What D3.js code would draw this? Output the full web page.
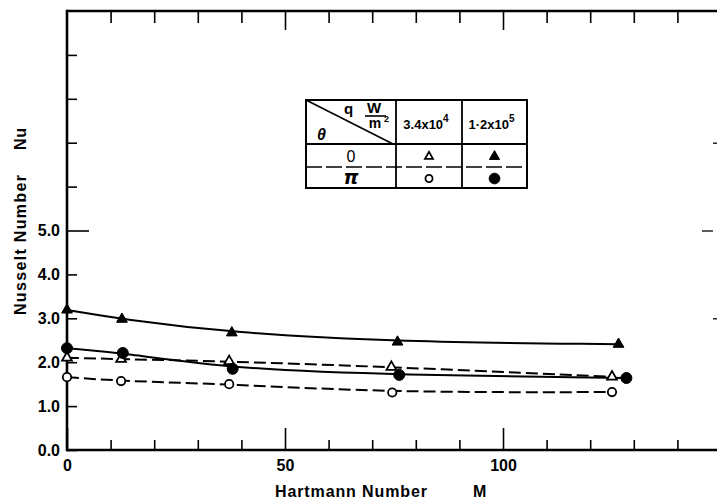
<!DOCTYPE html>
<html><head><meta charset="utf-8">
<script src="https://cdn.jsdelivr.net/npm/d3@7"></script>
<style>
html,body{margin:0;padding:0;background:#fff;}
svg{display:block;}
text{font-family:"Liberation Sans",Arial,sans-serif;font-weight:bold;fill:#000;}
</style></head>
<body><svg id="c" width="717" height="501"></svg>
<script>
// ---- data ----
const M_filledTri  = [0, 12.6, 37.8, 75.8, 126.5];
const Nu_filledTri = [3.19, 2.98, 2.67, 2.46, 2.41];
const M_filledCirc  = [0, 12.8, 38.0, 76.2, 128.3];
const Nu_filledCirc = [2.32, 2.21, 1.85, 1.71, 1.64];
const M_openTri  = [0, 12.4, 37.2, 74.4, 125.0];
const Nu_openTri = [2.10, 2.07, 2.02, 1.89, 1.67];
const M_openCirc  = [0, 12.4, 37.2, 74.6, 125.0];
const Nu_openCirc = [1.66, 1.57, 1.50, 1.31, 1.32];

const xLabeledTicks = [0, 50, 100];
const xMinorTicks = [10, 20, 30, 40, 60, 70, 80, 90, 110, 120, 130, 140];
const yLabeledTicks = [0, 1, 2, 3, 4, 5];
const yUnlabeledTicks = [6, 7, 8, 9];
const yRightTicks = [3, 5, 7];

const thetaLabels = ["0", "π"];
const qLabels = ["3.4x10", "1·2x10"];
const qExponents = ["4", "5"];

const xTitle = "Hartmann Number";
const xTitleVar = "M";
const yTitle = "Nusselt Number";
const yTitleVar = "Nu";

// ---- drawing ----
const svg = d3.select("#c");
svg.append("rect").attr("width",717).attr("height",501).attr("fill","#fff");

const x = d3.scaleLinear().domain([0,150]).range([67,721]);
const y = d3.scaleLinear().domain([0,10]).range([450,11]);

function styleAxis(g, w){
  g.select(".domain").remove();
  g.selectAll(".tick line").attr("stroke","#000").attr("stroke-width",w||1.6);
  g.selectAll(".tick text").style("font-size","16px").style("font-family","Liberation Sans, Arial, sans-serif").style("font-weight","bold");
}

// bottom axis
const gB1 = svg.append("g").attr("transform","translate(0,450)")
  .call(d3.axisBottom(x).tickValues(xMinorTicks).tickSize(-10).tickSizeOuter(0).tickFormat(""));
styleAxis(gB1);
const gB2 = svg.append("g").attr("transform","translate(0,450)")
  .call(d3.axisBottom(x).tickValues(xLabeledTicks).tickSize(-22).tickSizeOuter(0).tickPadding(10).tickFormat(d3.format("d")));
styleAxis(gB2);

// top axis
const gT1 = svg.append("g").attr("transform","translate(0,11)")
  .call(d3.axisTop(x).tickValues(xMinorTicks).tickSize(-12).tickSizeOuter(0).tickFormat(""));
styleAxis(gT1);
const gT2 = svg.append("g").attr("transform","translate(0,11)")
  .call(d3.axisTop(x).tickValues([50,100]).tickSize(-19).tickSizeOuter(0).tickFormat(""));
styleAxis(gT2);

// left axis
const gL1 = svg.append("g").attr("transform","translate(67,0)")
  .call(d3.axisLeft(y).tickValues(yLabeledTicks.filter(d=>d!==5).concat(yUnlabeledTicks)).tickSize(-10).tickSizeOuter(0).tickPadding(7)
  .tickFormat(d => yLabeledTicks.includes(d) ? d3.format(".1f")(d) : ""));
styleAxis(gL1);
const gL2 = svg.append("g").attr("transform","translate(67,0)")
  .call(d3.axisLeft(y).tickValues([5]).tickSize(-22).tickSizeOuter(0).tickPadding(7).tickFormat(d3.format(".1f")));
styleAxis(gL2);

// right axis (off-frame, only inward ticks visible)
const gR = svg.append("g").attr("transform","translate(721,0)")
  .call(d3.axisRight(y).tickValues(yRightTicks).tickSizeOuter(0).tickSize(-8).tickFormat(""));
styleAxis(gR, 1.3);
gR.selectAll(".tick").filter(d=>d===5).select("line").attr("x2",-19).attr("x1",-8);

// frame lines
svg.append("line").attr("x1",x(0)).attr("x2",717).attr("y1",y(0)).attr("y2",y(0)).attr("stroke","#000").attr("stroke-width",2.6);
svg.append("line").attr("x1",x(0)).attr("x2",717).attr("y1",y(10)).attr("y2",y(10)).attr("stroke","#000").attr("stroke-width",2.6);
svg.append("line").attr("x1",x(0)).attr("x2",x(0)).attr("y1",y(10)-1.3).attr("y2",y(0)+1.3).attr("stroke","#000").attr("stroke-width",2.6);

// titles
svg.append("text").attr("x",275).attr("y",497).attr("textLength",152).attr("lengthAdjust","spacing")
  .style("font-size","16px").text(xTitle);
svg.append("text").attr("x",473).attr("y",497).style("font-size","16px").text(xTitleVar);
svg.append("text").attr("transform","translate(26,315) rotate(-90)").attr("textLength",140).attr("lengthAdjust","spacing")
  .style("font-size","16px").text(yTitle);
svg.append("text").attr("transform","translate(26,150) rotate(-90)").attr("textLength",22).attr("lengthAdjust","spacing")
  .style("font-size","16px").text(yTitleVar);

// series
const series = [
  {M:M_openCirc,  Nu:Nu_openCirc,  dash:"12,5", sym:d3.symbolCircle,   filled:false, size:55},
  {M:M_openTri,   Nu:Nu_openTri,   dash:"12,5", sym:d3.symbolTriangle, filled:false, size:42},
  {M:M_filledCirc,Nu:Nu_filledCirc,dash:null,   sym:d3.symbolCircle,   filled:true,  size:95},
  {M:M_filledTri, Nu:Nu_filledTri, dash:null,   sym:d3.symbolTriangle, filled:true,  size:50},
];
const line = d3.line().x(d=>x(d[0])).y(d=>y(d[1])).curve(d3.curveBasis);
series.forEach(s=>{
  const pts = s.M.map((m,i)=>[m,s.Nu[i]]);
  svg.append("path").datum(pts).attr("d",line).attr("fill","none").attr("stroke","#000")
    .attr("stroke-width",2).attr("stroke-dasharray",s.dash);
});
series.forEach(s=>{
  const pts = s.M.map((m,i)=>[m,s.Nu[i]]);
  svg.append("g").selectAll("path").data(pts).join("path")
    .attr("transform",d=>`translate(${x(d[0])},${y(d[1])})`)
    .attr("d",d3.symbol(s.sym,s.size))
    .attr("fill",s.filled?"#000":"#fff").attr("stroke","#000").attr("stroke-width",s.filled?1:1.8);
});

// legend table
const L = svg.append("g");
const tx0=306, tx1=396, tx2=462, tx3=527, ty0=100, ty1=144, ty2=167, ty3=188;
L.append("rect").attr("x",tx0).attr("y",ty0).attr("width",tx3-tx0).attr("height",ty3-ty0)
  .attr("fill","#fff").attr("stroke","#000").attr("stroke-width",2);
[tx1,tx2].forEach(v=>L.append("line").attr("x1",v).attr("x2",v).attr("y1",ty0).attr("y2",ty3).attr("stroke","#000").attr("stroke-width",1.8));
L.append("line").attr("x1",tx0).attr("x2",tx3).attr("y1",ty1).attr("y2",ty1).attr("stroke","#000").attr("stroke-width",1.8);
L.append("line").attr("x1",tx0).attr("x2",tx3).attr("y1",ty2).attr("y2",ty2).attr("stroke","#000").attr("stroke-width",1.5).attr("stroke-dasharray","16,4");
L.append("line").attr("x1",tx0).attr("x2",tx1-3).attr("y1",ty0).attr("y2",ty1).attr("stroke","#000").attr("stroke-width",1.6);
L.append("text").attr("x",344).attr("y",114).style("font-size","15px").text("q");
L.append("text").attr("x",374).attr("y",113).attr("text-anchor","middle").style("font-size","15px").text("W");
L.append("line").attr("x1",365).attr("x2",386).attr("y1",116).attr("y2",116).attr("stroke","#000").attr("stroke-width",1.6);
L.append("text").attr("x",375).attr("y",128).attr("text-anchor","middle").style("font-size","14px").text("m");
L.append("text").attr("x",384).attr("y",122).style("font-size","9px").text("2");
L.append("text").attr("x",317).attr("y",140).style("font-size","16px").style("font-style","italic").text("θ");
[0,1].forEach(i=>{
  const cx = i===0 ? (tx1+tx2)/2 : (tx2+tx3)/2;
  const t = L.append("text").attr("x",cx-3).attr("y",129).attr("text-anchor","middle").style("font-size","13px");
  t.append("tspan").text(qLabels[i]);
  t.append("tspan").attr("dy",-7).style("font-size","10px").text(qExponents[i]);
});
thetaLabels.forEach((lab,i)=>{
  const cy = i===0 ? (ty1+ty2)/2 : (ty2+ty3)/2;
  L.append("text").attr("x",(tx0+tx1)/2).attr("y",cy+6).attr("text-anchor","middle")
    .style("font-size", i===1?"19px":"16px").style("font-weight", i===0?"normal":"bold")
    .style("font-style", i===1?"italic":null)
    .style("font-family", i===1?"DejaVu Sans, sans-serif":null).text(lab);
});
const legSyms = [
  [ {sym:d3.symbolTriangle,filled:false,size:28}, {sym:d3.symbolTriangle,filled:true,size:45} ],
  [ {sym:d3.symbolCircle,filled:false,size:40},   {sym:d3.symbolCircle,filled:true,size:90} ]
];
legSyms.forEach((row,i)=>{
  const cy = i===0 ? (ty1+ty2)/2 + 1 : (ty2+ty3)/2 + 1;
  row.forEach((s,j)=>{
    const cx = j===0 ? (tx1+tx2)/2 : (tx2+tx3)/2;
    L.append("path").attr("transform",`translate(${cx},${cy})`).attr("d",d3.symbol(s.sym,s.size))
      .attr("fill",s.filled?"#000":"#fff").attr("stroke","#000").attr("stroke-width",s.filled?1:1.8);
  });
});
</script></body></html>
